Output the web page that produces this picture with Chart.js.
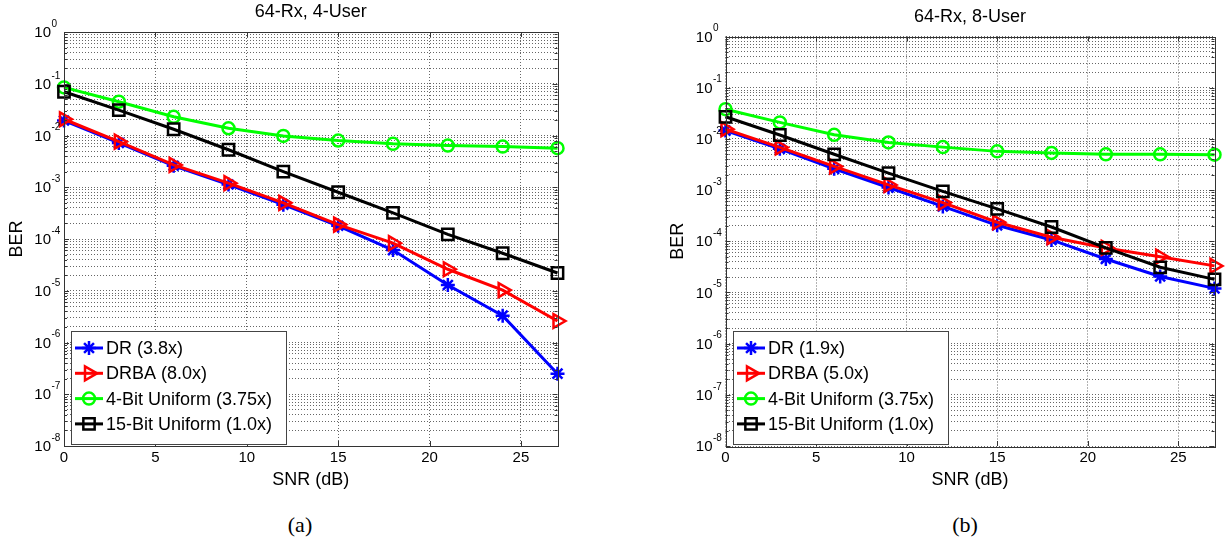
<!DOCTYPE html>
<html>
<head>
<meta charset="utf-8">
<title>BER vs SNR</title>
<script src="https://cdn.jsdelivr.net/npm/chart.js@4.4.0/dist/chart.umd.min.js"></script>
<style>
  body { margin: 0; background: #fff; width: 1225px; height: 542px; position: relative; overflow: hidden; }
  .panel { position: absolute; top: 0; }
  .caption { position: absolute; top: 513px; line-height: 24px; font-size: 22px; font-family: "Liberation Serif", "Times New Roman", serif; color: #000; transform: translateX(-50%); }
</style>
</head>
<body>
<div class="panel" style="left:0"><canvas id="chartA" width="612" height="500"></canvas></div>
<div class="panel" style="left:612px"><canvas id="chartB" width="613" height="500"></canvas></div>
<div class="caption" style="left:300px">(a)</div>
<div class="caption" style="left:965px">(b)</div>
<script>
// Axis values
const snrDb = [0, 3, 6, 9, 12, 15, 18, 21, 24, 27];
const xTicks = [0, 5, 10, 15, 20, 25];
const yExponents = [-8, -7, -6, -5, -4, -3, -2, -1, 0];

// 64-Rx, 4-User
const names4 = ['DR (3.8x)', 'DRBA (8.0x)', '4-Bit Uniform (3.75x)', '15-Bit Uniform (1.0x)'];
const dr4 = [0.0195, 0.0072, 0.0026, 0.00113, 0.00046, 0.00018, 6.1e-5, 1.29e-5, 3.3e-6, 2.5e-7];
const drba4 = [0.0206, 0.0076, 0.0027, 0.0012, 0.0005, 0.00019, 8.3e-5, 2.6e-5, 1.03e-5, 2.6e-6];
const uni4bit4 = [0.085, 0.045, 0.023, 0.0138, 0.0098, 0.0080, 0.0069, 0.0064, 0.0061, 0.0057];
const uni15bit4 = [0.070, 0.031, 0.0132, 0.0053, 0.0020, 0.0008, 0.00032, 0.000123, 5.3e-5, 2.2e-5];

// 64-Rx, 8-User
const names8 = ['DR (1.9x)', 'DRBA (5.0x)', '4-Bit Uniform (3.75x)', '15-Bit Uniform (1.0x)'];
const dr8 = [0.0145, 0.0064, 0.0026, 0.00112, 0.00048, 0.000205, 0.000106, 4.5e-5, 2.05e-5, 1.2e-5];
const drba8 = [0.0155, 0.0068, 0.0029, 0.00126, 0.00057, 0.000235, 0.00012, 7.4e-5, 5.0e-5, 3.3e-5];
const uni4bit8 = [0.038, 0.021, 0.012, 0.0085, 0.0069, 0.0057, 0.0053, 0.0050, 0.0050, 0.0049];
const uni15bit8 = [0.027, 0.0119, 0.0050, 0.00215, 0.00094, 0.00043, 0.00019, 7.4e-5, 3.1e-5, 1.8e-5];

const FONT = '"Liberation Sans", Arial, Helvetica, sans-serif';
Chart.defaults.font.family = FONT;
Chart.defaults.color = '#000';

const seriesStyles = [
    { color: '#0000ff', pointStyle: 'star', radius: 7, rotation: 0 },
    { color: '#ff0000', pointStyle: 'triangle', radius: 8, rotation: 90 },
    { color: '#00ff00', pointStyle: 'circle', radius: 6, rotation: 0 },
    { color: '#000000', pointStyle: 'rect', radius: 8, rotation: 0 }
];

// log ticks 1..9 x 10^e for the dotted minor grid
function logTicks() {
    const ticks = [];
    yExponents.forEach((e, i) => {
        if (i === yExponents.length - 1) {
            ticks.push({ value: Number('1e' + e), major: true });
            return;
        }
        for (let m = 1; m <= 9; m++) {
            ticks.push({ value: Number(m + 'e' + e), major: m === 1 });
        }
    });
    return ticks;
}

// box, inward ticks, superscript labels and the inset legend
const matlabAxes = {
    id: 'matlabAxes',
    afterDatasetsDraw(chart) {
        const { ctx, chartArea: a, scales: { x, y } } = chart;
        ctx.save();
        ctx.strokeStyle = '#333';
        ctx.lineWidth = 1;
        ctx.setLineDash([]);
        ctx.beginPath();
        x.ticks.forEach(t => {
            const px = Math.round(x.getPixelForValue(t.value)) + 0.5;
            ctx.moveTo(px, a.bottom); ctx.lineTo(px, a.bottom - 5);
            ctx.moveTo(px, a.top); ctx.lineTo(px, a.top + 5);
        });
        y.ticks.forEach(t => {
            const py = Math.round(y.getPixelForValue(t.value)) + 0.5;
            const len = t.major ? 5 : 3;
            ctx.moveTo(a.left, py); ctx.lineTo(a.left + len, py);
            ctx.moveTo(a.right, py); ctx.lineTo(a.right - len, py);
        });
        ctx.stroke();
        ctx.strokeRect(Math.round(a.left) + 0.5, Math.round(a.top) + 0.5, Math.round(a.width), Math.round(a.height));

        ctx.fillStyle = '#000';
        ctx.textBaseline = 'middle';
        yExponents.forEach(e => {
            const py = y.getPixelForValue(Math.pow(10, e));
            ctx.font = '15px ' + FONT;
            ctx.textAlign = 'right';
            ctx.fillText('10', a.left - 13, py + 1);
            ctx.font = '10px ' + FONT;
            ctx.textAlign = 'left';
            ctx.fillText(String(e), a.left - 12.5, py - 8);
        });
        ctx.restore();
    },
    afterDraw(chart) {
        const { ctx, chartArea: a } = chart;
        const bw = 215, bh = 113;
        const bx = Math.round(a.left) + 7, by = Math.round(a.bottom) - bh - 2;
        ctx.save();
        ctx.fillStyle = '#fff';
        ctx.fillRect(bx, by, bw, bh);
        ctx.strokeStyle = '#444';
        ctx.lineWidth = 1;
        ctx.strokeRect(bx + 0.5, by + 0.5, bw, bh);
        chart.data.datasets.forEach((ds, i) => {
            const st = seriesStyles[i];
            const cy = by + 17 + i * 25.3;
            ctx.strokeStyle = st.color;
            ctx.lineWidth = 3;
            ctx.beginPath();
            ctx.moveTo(bx + 4, cy); ctx.lineTo(bx + 32, cy);
            ctx.stroke();
            ctx.fillStyle = 'rgba(0,0,0,0)';
            ctx.lineWidth = 2.5;
            Chart.helpers.drawPoint(ctx, { pointStyle: st.pointStyle, rotation: st.rotation, radius: st.radius, borderWidth: 2.5 }, bx + 18, cy);
            ctx.fillStyle = '#000';
            ctx.font = '18px ' + FONT;
            ctx.textAlign = 'left';
            ctx.textBaseline = 'middle';
            ctx.fillText(ds.label, bx + 35, cy + 1);
        });
        ctx.restore();
    }
};

function buildChart(canvasId, title, series, names, pad) {
    const datasets = series.map((vals, i) => ({
        label: names[i],
        data: snrDb.map((x, j) => ({ x: x, y: vals[j] })),
        borderColor: seriesStyles[i].color,
        backgroundColor: 'rgba(0,0,0,0)',
        borderWidth: 3,
        pointStyle: seriesStyles[i].pointStyle,
        pointRadius: seriesStyles[i].radius,
        pointRotation: seriesStyles[i].rotation,
        pointBorderWidth: 2.5,
        pointBorderColor: seriesStyles[i].color,
        pointBackgroundColor: 'rgba(0,0,0,0)',
        tension: 0,
        clip: false,
        order: series.length - i
    }));

    // v4 takes the grid line dash from border.dash
    const grid = { color: '#666', lineWidth: 1, drawTicks: false };
    const border = { display: false, dash: [1, 2] };

    return new Chart(document.getElementById(canvasId), {
        type: 'line',
        data: { datasets },
        plugins: [matlabAxes],
        options: {
            responsive: false,
            animation: false,
            devicePixelRatio: 1,
            layout: { padding: { left: pad.left, right: pad.right, top: 0, bottom: 0 } },
            plugins: {
                legend: { display: false },
                tooltip: { enabled: false },
                title: {
                    display: true,
                    text: title,
                    fullSize: false,
                    color: '#000',
                    font: { size: 18, weight: 'normal' },
                    padding: { top: pad.titleTop, bottom: pad.titleBottom }
                }
            },
            scales: {
                x: {
                    type: 'linear',
                    min: 0,
                    max: 27,
                    afterBuildTicks: s => { s.ticks = xTicks.map(v => ({ value: v })); },
                    afterFit: s => { s.height = 54; },
                    grid: grid,
                    border: border,
                    ticks: { padding: 3, color: '#000', font: { size: 15 }, maxRotation: 0, autoSkip: false },
                    title: { display: true, text: 'SNR (dB)', color: '#000', font: { size: 18 }, padding: { top: 0, bottom: 9 } }
                },
                y: {
                    type: 'logarithmic',
                    min: 1e-8,
                    max: 1,
                    afterBuildTicks: s => { s.ticks = logTicks(); },
                    afterFit: s => { s.width = 64; },
                    grid: grid,
                    border: border,
                    ticks: { display: false },
                    title: { display: true, text: 'BER', color: '#000', font: { size: 18 }, padding: { top: 6, bottom: 0 } }
                }
            }
        }
    });
}

document.addEventListener('DOMContentLoaded', () => {
    buildChart('chartA', '64-Rx, 4-User', [dr4, drba4, uni4bit4, uni15bit4], names4,
        { left: 0, right: 54.5, titleTop: 1.5, titleBottom: 8.9 });
    buildChart('chartB', '64-Rx, 8-User', [dr8, drba8, uni4bit8, uni15bit8], names8,
        { left: 49.5, right: 5.3, titleTop: 5.9, titleBottom: 9 });
});
</script>
</body>
</html>
